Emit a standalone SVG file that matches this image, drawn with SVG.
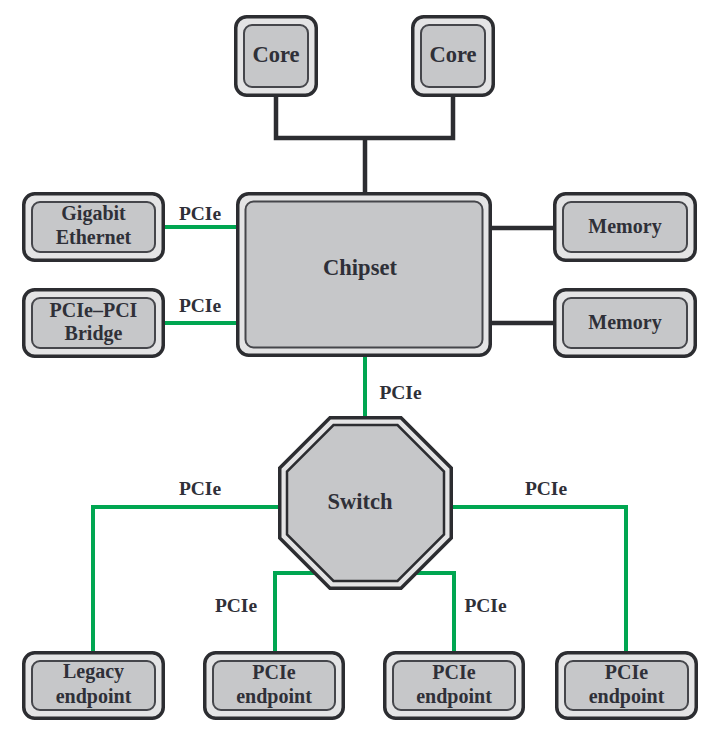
<svg xmlns="http://www.w3.org/2000/svg" width="711" height="731" viewBox="0 0 711 731">
<style>
.o{fill:#e4e4e5;stroke:#2c2d31;stroke-width:3.5}
.i{fill:#c6c7c9;stroke:#45464b;stroke-width:2}
.g{fill:none;stroke:#00a651;stroke-width:4}
.k{fill:none;stroke:#2c2d31;stroke-width:4.5}
</style>
<rect width="711" height="731" fill="#fff"/>
<g id="connectors">
<path class="k" d="M276 96V138H453V96M365 138V193"/>
<path class="k" d="M491 228H554M491 323H554"/>
<path class="g" d="M164 227H237M164 323H237"/>
<path class="g" d="M365 356V418"/>
<path class="g" d="M280 507H93V652M451 507H626V652"/>
<path class="g" d="M315 573H275V652M416 573H454V652"/>
<g font-family="Liberation Serif" font-weight="bold" font-size="19.5" fill="#2f3038" text-anchor="middle">
<text style="font-family:'Liberation Serif',serif" x="200" y="220">PCIe</text>
<text style="font-family:'Liberation Serif',serif" x="200" y="312">PCIe</text>
<text style="font-family:'Liberation Serif',serif" x="400.5" y="399">PCIe</text>
<text style="font-family:'Liberation Serif',serif" x="200" y="495">PCIe</text>
<text style="font-family:'Liberation Serif',serif" x="546" y="495">PCIe</text>
<text style="font-family:'Liberation Serif',serif" x="236" y="612">PCIe</text>
<text style="font-family:'Liberation Serif',serif" x="485.5" y="612">PCIe</text>
</g>
</g>
<g font-family="Liberation Serif" font-weight="bold" font-size="20" fill="#2f3038" text-anchor="middle">
<g id="core1"><rect class="o" x="235.75" y="16.75" width="80.5" height="78.5" rx="11"/><rect class="i" x="244" y="25" width="64" height="62" rx="8"/><text style="font-family:'Liberation Serif',serif" font-size="22.5" x="276" y="62">Core</text></g>
<g id="core2"><rect class="o" x="412.75" y="16.75" width="80.5" height="78.5" rx="11"/><rect class="i" x="421" y="25" width="64" height="62" rx="8"/><text style="font-family:'Liberation Serif',serif" font-size="22.5" x="453" y="62">Core</text></g>
<g id="chipset"><rect class="o" x="237.75" y="193.75" width="252.5" height="161.5" rx="11"/><rect class="i" x="245.5" y="201.5" width="237" height="146" rx="8"/><text style="font-family:'Liberation Serif',serif" font-size="22.5" x="360" y="275">Chipset</text></g>
<g id="gigabit"><rect class="o" x="23.75" y="193.75" width="139.5" height="66.5" rx="11"/><rect class="i" x="32" y="202" width="123" height="50" rx="8"/><text style="font-family:'Liberation Serif',serif" x="93.5" y="220">Gigabit</text><text style="font-family:'Liberation Serif',serif" x="93.5" y="244">Ethernet</text></g>
<g id="bridge"><rect class="o" x="23.75" y="289.75" width="139.5" height="66.5" rx="11"/><rect class="i" x="32" y="298" width="123" height="50" rx="8"/><text style="font-family:'Liberation Serif',serif" x="93.5" y="317">PCIe–PCI</text><text style="font-family:'Liberation Serif',serif" x="93.5" y="340">Bridge</text></g>
<g id="memory1"><rect class="o" x="554.75" y="193.75" width="140.5" height="66.5" rx="11"/><rect class="i" x="563" y="202" width="124" height="50" rx="8"/><text style="font-family:'Liberation Serif',serif" x="625" y="233">Memory</text></g>
<g id="memory2"><rect class="o" x="554.75" y="289.75" width="140.5" height="66.5" rx="11"/><rect class="i" x="563" y="298" width="124" height="50" rx="8"/><text style="font-family:'Liberation Serif',serif" x="625" y="329">Memory</text></g>
<g id="switch">
<polygon fill="#e4e4e5" stroke="#2c2d31" stroke-width="3.5" points="330,417.75 401,417.75 451.25,468 451.25,538 401,588.25 330,588.25 279.75,538 279.75,468"/>
<polygon fill="#c6c7c9" stroke="#2c2d31" stroke-width="2.5" points="333.5,425 397.5,425 444,471.5 444,534.5 397.5,581 333.5,581 287,534.5 287,471.5"/>
<text style="font-family:'Liberation Serif',serif" font-size="22.5" x="360" y="509">Switch</text>
</g>
<g id="legacy"><rect class="o" x="23.75" y="652.75" width="139.5" height="65.5" rx="11"/><rect class="i" x="32" y="661" width="123" height="49" rx="8"/><text style="font-family:'Liberation Serif',serif" x="93.5" y="678">Legacy</text><text style="font-family:'Liberation Serif',serif" x="93.5" y="703">endpoint</text></g>
<g id="ep1"><rect class="o" x="204.75" y="652.75" width="138.5" height="65.5" rx="11"/><rect class="i" x="213" y="661" width="122" height="49" rx="8"/><text style="font-family:'Liberation Serif',serif" x="274" y="679">PCIe</text><text style="font-family:'Liberation Serif',serif" x="274" y="703">endpoint</text></g>
<g id="ep2"><rect class="o" x="384.75" y="652.75" width="138.5" height="65.5" rx="11"/><rect class="i" x="393" y="661" width="122" height="49" rx="8"/><text style="font-family:'Liberation Serif',serif" x="454" y="679">PCIe</text><text style="font-family:'Liberation Serif',serif" x="454" y="703">endpoint</text></g>
<g id="ep3"><rect class="o" x="556.75" y="652.75" width="139.5" height="65.5" rx="11"/><rect class="i" x="565" y="661" width="123" height="49" rx="8"/><text style="font-family:'Liberation Serif',serif" x="626.5" y="679">PCIe</text><text style="font-family:'Liberation Serif',serif" x="626.5" y="703">endpoint</text></g>
</g>
</svg>
